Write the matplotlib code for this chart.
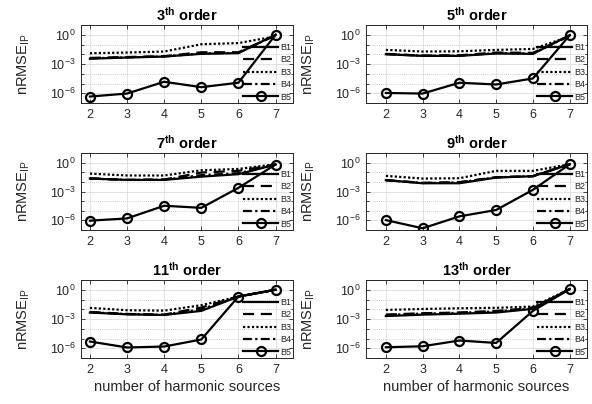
import numpy as np
import matplotlib
matplotlib.use('Agg')
import matplotlib.pyplot as plt
from matplotlib.ticker import FixedLocator, NullFormatter

plt.rcParams['font.family'] = ['Liberation Sans', 'DejaVu Sans']
plt.rcParams['mathtext.fontset'] = 'custom'
plt.rcParams['mathtext.rm'] = 'Liberation Sans'
plt.rcParams['mathtext.bf'] = 'Liberation Sans:bold'
plt.rcParams['mathtext.it'] = 'Liberation Sans:italic'

sources = [2, 3, 4, 5, 6, 7]
orders = ['3', '5', '7', '9', '11', '13']
labels = ['B1', 'B2', 'B3', 'B4', 'B5']

# order 3
B1_3 = [3.5e-3, 4.6e-3, 5.8e-3, 1.1e-2, 1.3e-2, 1.0]
B2_3 = [4.2e-3, 5.2e-3, 6.3e-3, 1.6e-2, 1.6e-2, 0.9]
B3_3 = [1.26e-2, 1.5e-2, 1.9e-2, 1.07e-1, 1.4e-1, 0.68]
B4_3 = [3.8e-3, 4.8e-3, 6.0e-3, 1.2e-2, 1.4e-2, 0.9]
B5_3 = [4.6e-7, 9.3e-7, 1.5e-5, 4.2e-6, 1.2e-5, 1.0]
# order 5
B1_5 = [1.0e-2, 6.8e-3, 6.8e-3, 1.2e-2, 1.1e-2, 0.9]
B2_5 = [1.1e-2, 7.3e-3, 7.8e-3, 1.5e-2, 1.4e-2, 0.8]
B3_5 = [2.8e-2, 1.9e-2, 2.0e-2, 2.8e-2, 3.5e-2, 0.68]
B4_5 = [1.05e-2, 7.0e-3, 7.2e-3, 1.3e-2, 1.2e-2, 0.8]
B5_5 = [1.07e-6, 9.3e-7, 1.2e-5, 7.9e-6, 3.3e-5, 0.9]
# order 7
B1_7 = [2.2e-2, 1.6e-2, 1.6e-2, 3.5e-2, 6.3e-2, 0.63]
B2_7 = [2.4e-2, 1.6e-2, 1.75e-2, 9.3e-2, 1.4e-1, 0.63]
B3_7 = [7.2e-2, 4.6e-2, 4.6e-2, 1.6e-1, 2.2e-1, 0.68]
B4_7 = [2.2e-2, 1.6e-2, 1.7e-2, 5.0e-2, 8.0e-2, 0.63]
B5_7 = [9.3e-7, 1.6e-6, 3.3e-5, 2.0e-5, 2.4e-3, 0.63]
# order 9
B1_9 = [1.5e-2, 7.2e-3, 7.2e-3, 2.8e-2, 3.9e-2, 0.68]
B2_9 = [1.5e-2, 7.9e-3, 9.3e-3, 3.0e-2, 3.9e-2, 0.68]
B3_9 = [4.2e-2, 2.2e-2, 2.4e-2, 1.4e-1, 1.4e-1, 0.68]
B4_9 = [1.5e-2, 7.6e-3, 9.0e-3, 3.0e-2, 3.9e-2, 0.68]
B5_9 = [1.07e-6, 1.5e-7, 2.6e-6, 1.2e-5, 1.5e-3, 0.68]
# order 11
B1_11 = [4.6e-3, 3.0e-3, 2.6e-3, 6.8e-3, 0.2, 1.0]
B2_11 = [5.3e-3, 3.3e-3, 2.8e-3, 1.5e-2, 0.2, 1.0]
B3_11 = [1.4e-2, 7.9e-3, 7.2e-3, 2.6e-2, 0.2, 1.0]
B4_11 = [5.0e-3, 3.2e-3, 2.7e-3, 1.0e-2, 0.2, 1.0]
B5_11 = [4.9e-6, 1.2e-6, 1.5e-6, 7.9e-6, 0.2, 1.0]
# order 13
B1_13 = [2.0e-3, 2.8e-3, 3.5e-3, 4.6e-3, 1.1e-2, 1.17]
B2_13 = [2.8e-3, 3.9e-3, 4.6e-3, 6.8e-3, 1.3e-2, 1.17]
B3_13 = [8.5e-3, 1.07e-2, 1.26e-2, 1.4e-2, 1.9e-2, 1.17]
B4_13 = [2.6e-3, 3.6e-3, 4.3e-3, 6.0e-3, 1.2e-2, 1.17]
B5_13 = [1.26e-6, 1.6e-6, 6.2e-6, 3.5e-6, 6.8e-3, 1.17]

panels = [
    (B1_3, B2_3, B3_3, B4_3, B5_3),
    (B1_5, B2_5, B3_5, B4_5, B5_5),
    (B1_7, B2_7, B3_7, B4_7, B5_7),
    (B1_9, B2_9, B3_9, B4_9, B5_9),
    (B1_11, B2_11, B3_11, B4_11, B5_11),
    (B1_13, B2_13, B3_13, B4_13, B5_13),
]

W, H = 592, 404
fig = plt.figure(figsize=(W / 100, H / 100), dpi=100)

cols = [(81, 293, 1.76), (366, 587, 1.46)]
rows = [(25, 103), (153, 230), (280, 358)]

styles = [
    dict(linestyle='-'),
    dict(linestyle=(0, (5, 3))),
    dict(linestyle=(0, (1, 1))),
    dict(linestyle=(0, (4, 1.5, 1, 1.5))),
    dict(linestyle='-', marker='o', markersize=6.5, markerfacecolor='none', markeredgewidth=1.6),
]

spine_c = '#262626'
for i, (order, data) in enumerate(zip(orders, panels)):
    r, c = divmod(i, 2)
    x0, x1, xmin = cols[c]
    yt, yb = rows[r]
    ax = fig.add_axes([x0 / W, (H - yb) / H, (x1 - x0) / W, (yb - yt) / H])
    for lab, ys, st in zip(labels, data, styles):
        ax.plot(sources, ys, color='black', linewidth=1.6, label=lab, **st)
    ax.set_yscale('log')
    ax.set_ylim(1e-7, 1e1)
    ax.set_xlim(xmin, 7.47)
    ax.set_xticks(sources)
    ax.yaxis.set_major_locator(FixedLocator([1e-6, 1e-3, 1e0]))
    ax.yaxis.set_minor_locator(FixedLocator([10.0 ** k for k in range(-7, 2)]))
    ax.yaxis.set_minor_formatter(NullFormatter())
    ax.grid(True, which='major', color='#dedede', linewidth=0.6, linestyle='-')
    ax.grid(True, which='minor', axis='y', color='#bdbdbd', linewidth=0.6, linestyle=(0, (1, 1.5)))
    ax.set_axisbelow(True)
    ax.tick_params(which='both', direction='in', top=True, right=True, colors=spine_c,
                   labelsize=9, length=3, width=0.6, labelcolor='#262626', pad=4)
    ax.tick_params(which='minor', length=1.8)
    for s in ax.spines.values():
        s.set_color(spine_c)
        s.set_linewidth(0.7)
    ax.set_title(order + r'$^{\bf th}$ order', fontsize=10.5, fontweight='bold', pad=3)
    ax.set_ylabel(r'nRMSE$_{\rm IP}$', fontsize=10.5, color='#262626', labelpad=13)
    if r == 2:
        ax.set_xlabel('number of harmonic sources', fontsize=10.5, color='#262626', labelpad=3)
    leg = ax.legend(loc='lower right', frameon=False, fontsize=6.5, handlelength=3.9,
                    handletextpad=0.25, labelspacing=0.38, borderpad=0.0,
                    borderaxespad=0.15, numpoints=1)
    for t in leg.get_texts():
        t.set_color('#262626')

fig.savefig('out.png', dpi=100)
